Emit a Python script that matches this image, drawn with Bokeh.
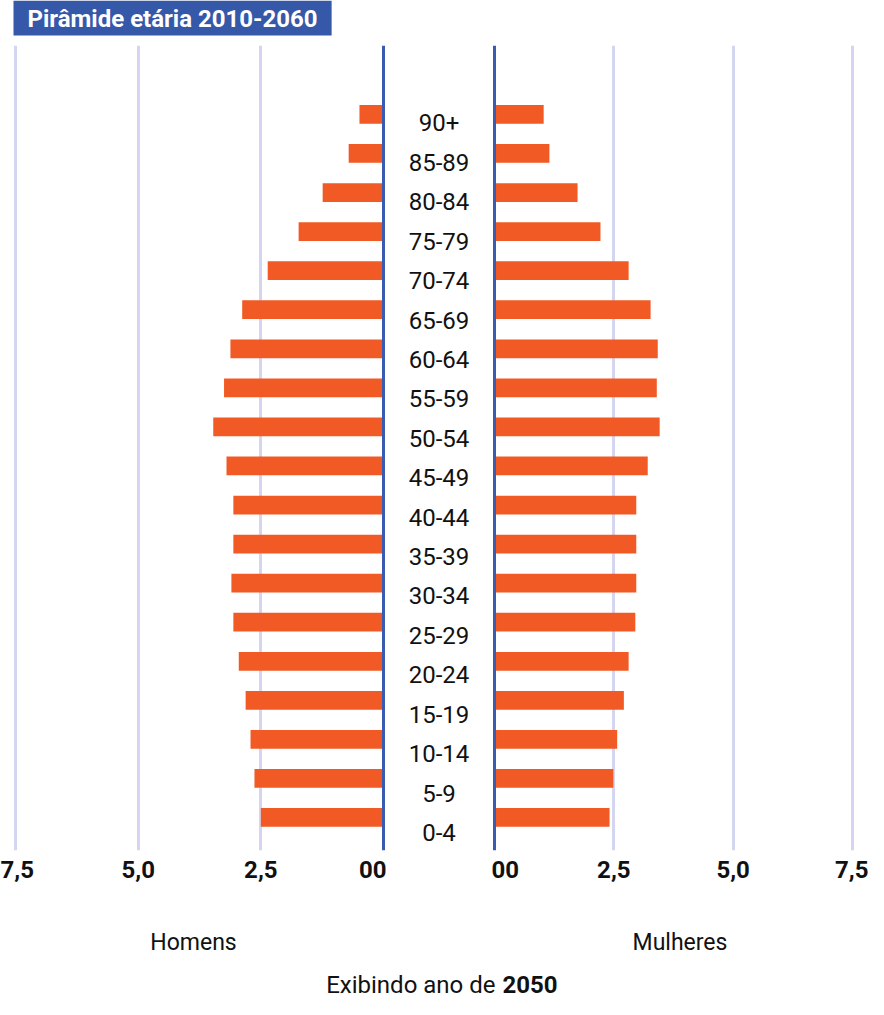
from bokeh.plotting import figure
from bokeh.models import Range1d, FixedTicker, Span, Label, ColumnDataSource
from bokeh.layouts import row, column
from bokeh.embed import file_html
from bokeh.resources import INLINE
from bokeh.core.properties import value

# ---------------- data ----------------
age_groups = ["0-4", "5-9", "10-14", "15-19", "20-24", "25-29", "30-34", "35-39",
              "40-44", "45-49", "50-54", "55-59", "60-64", "65-69", "70-74",
              "75-79", "80-84", "85-89", "90+"]
homens = [2.50, 2.63, 2.71, 2.81, 2.95, 3.06, 3.10, 3.06, 3.06, 3.20,
          3.47, 3.25, 3.12, 2.88, 2.36, 1.73, 1.24, 0.71, 0.49]
mulheres = [2.41, 2.49, 2.57, 2.71, 2.81, 2.95, 2.97, 2.97, 2.97, 3.21,
            3.46, 3.40, 3.42, 3.27, 2.81, 2.22, 1.74, 1.15, 1.03]
tick_values = [0, 2.5, 5, 7.5]
tick_labels = ["00", "2,5", "5,0", "7,5"]
title_text = "Pirâmide etária 2010-2060"
left_label = "Homens"
right_label = "Mulheres"
footer_text = "Exibindo ano de"
footer_year = "2050"

# ---------------- style ----------------
FONT = "Roboto"
BAR = "#f15a24"
GRID = "#d3d6ee"
BLUE = "#3a5cb0"
TITLE_BG = "#3558a8"
TEXT = "#111111"

ypos = list(range(len(age_groups)))
H = 921
BOTTOM = 116
Y0, Y1 = -0.845, 19.765


def side(width, xr, values, label):
    src = ColumnDataSource(dict(y=ypos, v=values, age=age_groups))
    p = figure(width=width, height=H, x_range=xr, y_range=Range1d(Y0, Y1),
               output_backend="svg", toolbar_location=None,
               x_axis_location="below", y_axis_location=None,
               min_border_left=0, min_border_right=0,
               min_border_top=0, min_border_bottom=BOTTOM)
    p.outline_line_color = None
    ax = p.xaxis[0]
    ax.ticker = FixedTicker(ticks=tick_values)
    ax.major_label_overrides = {v: l for v, l in zip(tick_values, tick_labels)}
    ax.axis_line_color = None
    ax.major_tick_line_color = None
    ax.minor_tick_line_color = None
    ax.major_tick_out = 0
    ax.major_tick_in = 0
    ax.major_label_standoff = 10
    ax.major_label_text_font = FONT
    ax.major_label_text_font_size = "24px"
    ax.major_label_text_font_style = "bold"
    ax.major_label_text_color = TEXT
    ax.axis_label = label
    ax.axis_label_text_font = FONT
    ax.axis_label_text_font_size = "23px"
    ax.axis_label_text_font_style = "normal"
    ax.axis_label_text_color = TEXT
    ax.axis_label_standoff = 48
    p.xgrid.ticker = FixedTicker(ticks=tick_values[1:])
    p.xgrid.grid_line_color = GRID
    p.xgrid.grid_line_width = 3
    p.ygrid.visible = False
    p.hbar(y="y", left=0, right="v", height=0.48, source=src,
           fill_color=BAR, line_color=None)
    p.add_layout(Span(location=0, dimension="height", line_color=BLUE, line_width=3))
    return p


left = side(386, Range1d(7.806, -0.061), homens, left_label)
right = side(377, Range1d(-0.063, 7.835), mulheres, right_label)

mid_src = ColumnDataSource(dict(x=[0] * len(age_groups), y=ypos, age=age_groups))
mid = figure(width=105, height=H, x_range=Range1d(-1, 1), y_range=Range1d(-0.457, 19.964),
             output_backend="svg", toolbar_location=None,
             x_axis_location=None, y_axis_location=None,
             min_border_left=0, min_border_right=0,
             min_border_top=0, min_border_bottom=BOTTOM)
mid.outline_line_color = None
mid.grid.visible = False
mid.text(x="x", y="y", text="age", source=mid_src, text_align="center",
         text_baseline="middle", text_font=value(FONT), text_font_size="24px",
         text_color=TEXT)

# title strip
head = figure(width=868, height=45, x_range=Range1d(0, 868), y_range=Range1d(0, 45),
              output_backend="svg", toolbar_location=None,
              x_axis_location=None, y_axis_location=None, min_border=0)
head.outline_line_color = None
head.grid.visible = False
head.add_layout(Label(x=13, y=27.5, text=title_text, text_align="left",
                      text_baseline="middle", text_font=FONT, text_font_size="24px",
                      text_font_style="bold", text_color="white",
                      background_fill_color=TITLE_BG,
                      padding=dict(left=14, right=14, top=4, bottom=3)))

# footer strip
foot = figure(width=868, height=33, x_range=Range1d(0, 868), y_range=Range1d(0, 33),
              output_backend="svg", toolbar_location=None,
              x_axis_location=None, y_axis_location=None, min_border=0)
foot.outline_line_color = None
foot.grid.visible = False
foot.add_layout(Label(x=495, y=15, text=footer_text, text_align="right",
                      text_baseline="middle", text_font=FONT,
                      text_font_size="24px", text_color=TEXT))
foot.add_layout(Label(x=502, y=15, text=footer_year, text_align="left",
                      text_baseline="middle", text_font=FONT,
                      text_font_size="24px", text_font_style="bold", text_color=TEXT))

layout = column(head, row(left, mid, right, spacing=0), foot, spacing=0)

open("out.html", "w").write(file_html(layout, INLINE))
